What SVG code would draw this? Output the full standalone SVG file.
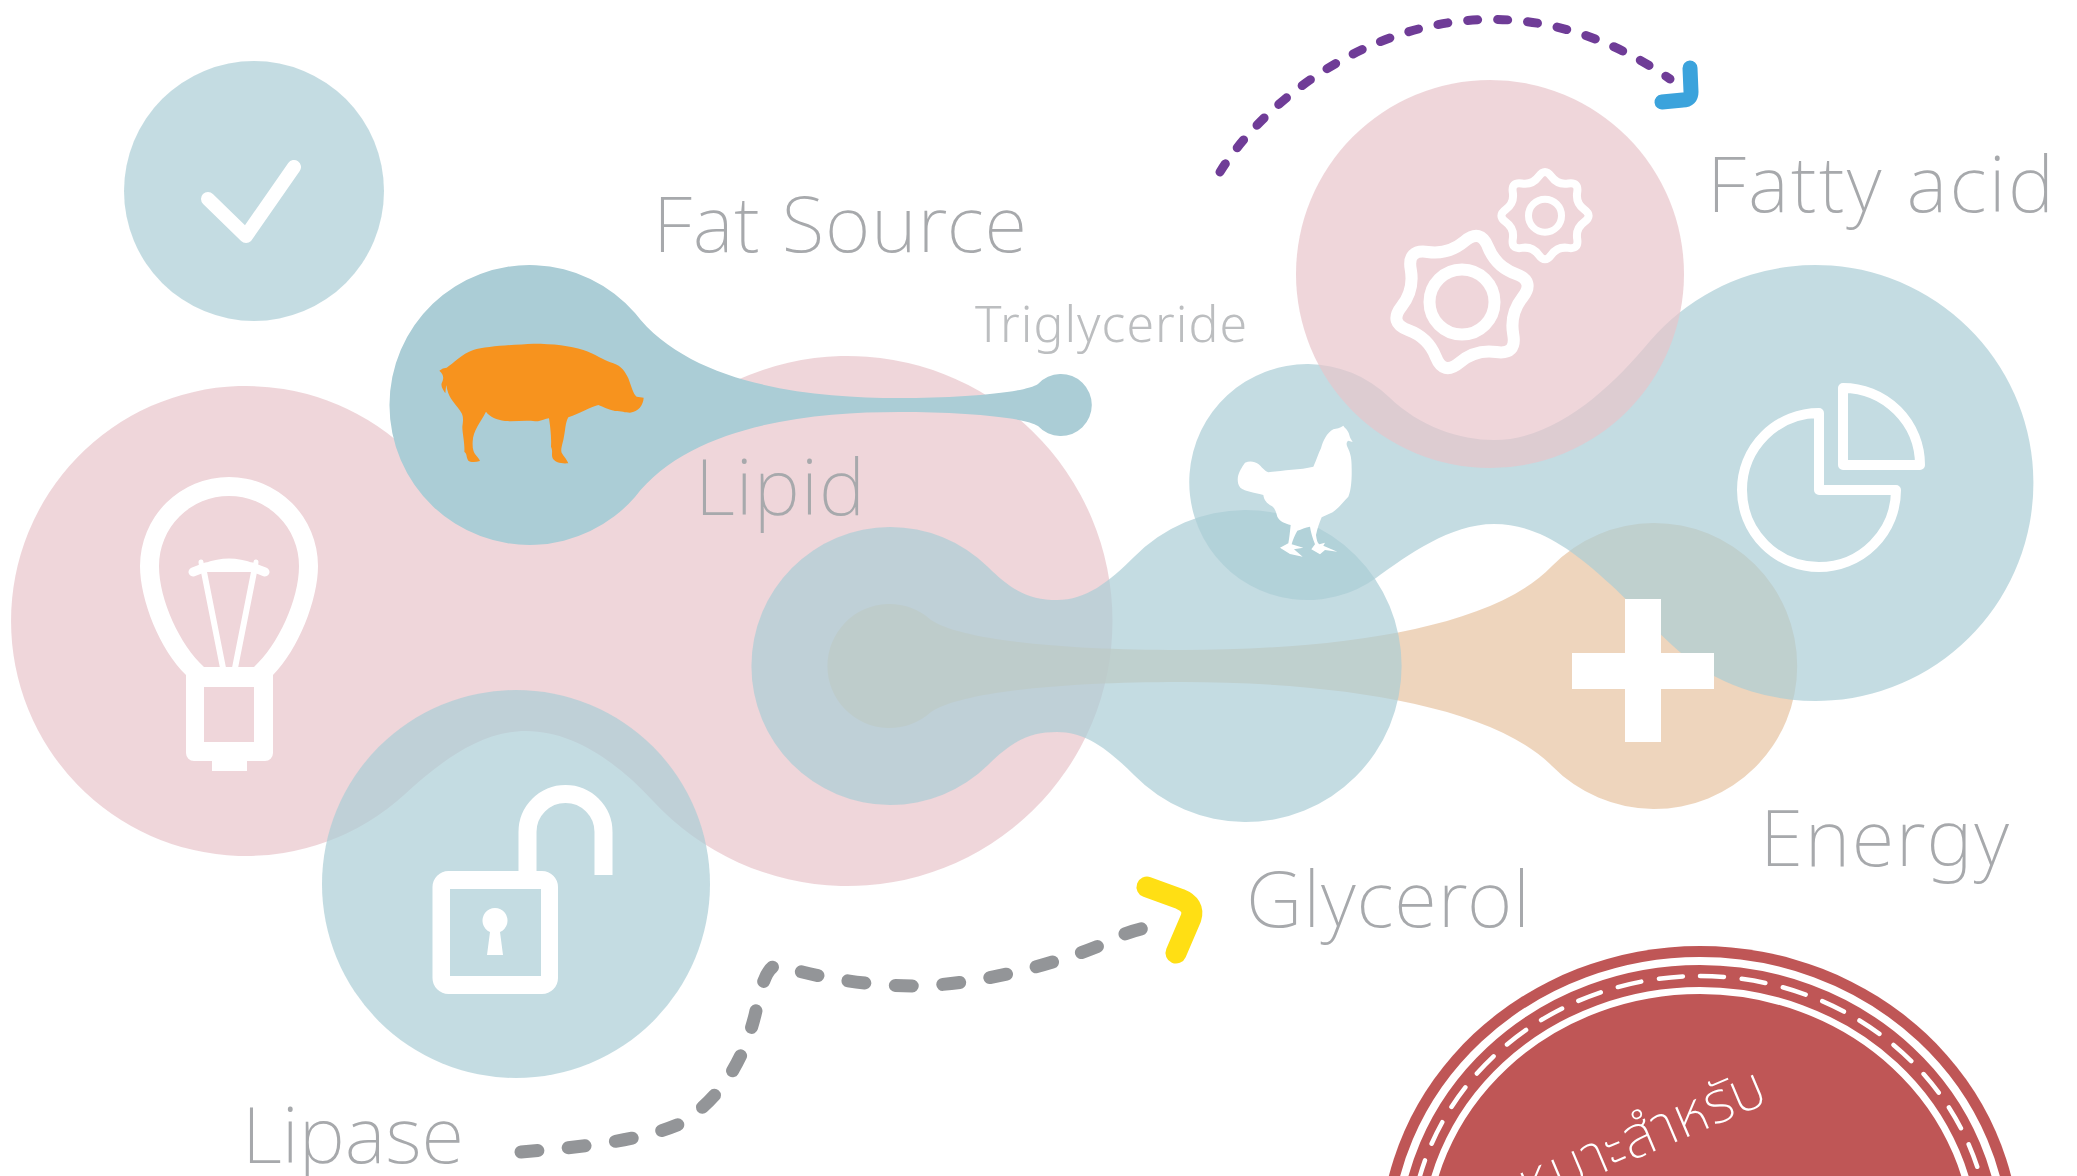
<svg xmlns="http://www.w3.org/2000/svg" width="2077" height="1176" viewBox="0 0 2077 1176">
<style>
.teal{fill:#abcdd6;fill-opacity:.7}
.pink{fill:#e8c4cb;fill-opacity:.7}
.tan{fill:#e7c3a1;fill-opacity:.7}
.line{fill:none;stroke:#fff;stroke-linejoin:round;stroke-linecap:round}
.ico{fill:#fff}
.lbl{font-family:"Noto Sans","Open Sans",sans-serif;font-weight:200;font-size:78px;fill:#a7a9ac}
</style>
<rect width="2077" height="1176" fill="#fff"/>
<g id="node-lipid"><path class="pink" d="M404 447A235 235 0 1 0 404 795C440 762 480 731 526 731C575 731 620 765 653 801A265 265 0 1 0 653 441C620 477 575 511 526 511C480 511 440 480 404 447Z"/>
<path class="ico" fill-rule="evenodd" d="M186 675C160 650 140 600 140 566A89 89 0 0 1 318 566C318 600 298 650 273 675V753a8 8 0 0 1-8 8H247V771H212V761H194a8 8 0 0 1-8-8ZM204 667H254C278 645 299 600 299 566A70 70 0 0 0 159 566C159 600 180 645 204 667ZM204 687V742H254V687Z"/>
<path class="ico" d="M204 572H254L253 563Q229 554 205 563Z"/>
<path class="line" stroke-width="6" d="M204 572L223 668M254 572L235 668"/>
<path class="line" stroke-width="9" d="M193 572L206 567M265 572L252 567"/>
<path class="line" stroke-width="5" d="M201 562L202 570M256 562L255 570"/>
</g>
<g id="node-energy"><path class="tan" transform="translate(1 0)" d="M930 620C960 640 1060 650 1180 650C1330 650 1490 630 1551 566A143 143 0 1 1 1551 766C1490 704 1330 682 1180 682C1060 682 960 692 930 712A62 62 0 1 1 930 620Z"/>
</g>
<g id="node-glycerol"><path class="teal" transform="translate(1 0)" d="M987 567C1012 592 1030 600 1056 600C1085 600 1108 582 1133 557A156 156 0 1 1 1133 775C1108 750 1085 732 1056 732C1030 732 1012 740 987 765A139 139 0 1 1 987 567Z"/></g>
<g id="node-fatty"><path class="teal" transform="translate(0 -1)" d="M1389 398C1420 428 1460 441 1494 441C1555 441 1610 390 1650 342A218 218 0 1 1 1714 677C1676 657 1640 612 1610 585C1570 548 1535 525 1494 525C1450 525 1408 556 1376 579A118 118 0 1 1 1389 398Z"/>
<path class="line" stroke-width="10" d="M1843 388V465H1920A77 77 0 0 0 1843 388ZM1819 413V490H1896A77 77 0 1 1 1819 413Z"/>
<path class="ico" transform="translate(1220 410) scale(.3333)" d="M370 47C375 55 385 60 388 75C390 85 395 90 398 96L385 92C380 95 378 102 382 110C392 130 395 145 395 175C396 215 392 245 385 260C370 275 355 295 338 307L305 322C298 340 292 355 288 375C290 390 292 398 298 403L315 398L310 407L352 425L315 420L300 433L274 418L285 403C278 385 272 365 270 350C255 352 245 358 232 362C225 375 218 390 215 403L250 413L222 418L248 440L210 432L180 413L205 400C208 385 210 365 212 345C195 340 180 335 172 320C168 305 165 295 155 288C140 280 132 270 130 255C115 250 100 248 90 245C75 243 62 235 60 232C52 222 52 205 55 195C60 180 70 165 75 158C90 152 105 155 115 162C125 170 130 180 145 187C185 180 240 180 280 170C290 150 295 130 303 115C310 90 320 70 340 58C350 55 360 55 370 47Z"/>
</g>
<g id="node-gears"><circle class="pink" cx="1490" cy="274" r="194"/>
<path class="line" stroke-width="11.500" transform="translate(1462 302) scale(1.05) translate(-1462 -302)" d="M1464.35 244.3Q1479.6 231.5 1487 250Q1494.4 268.4 1513.15 275.2Q1531.9 282 1519.6 297.65Q1507.3 313.3 1510.8 332.9Q1514.3 352.5 1494.6 349.7Q1474.9 346.9 1459.65 359.7Q1444.4 372.5 1437 354.05Q1429.6 335.6 1410.85 328.8Q1392.1 322 1404.4 306.35Q1416.7 290.7 1413.2 271.1Q1409.7 251.5 1429.4 254.3Q1449.1 257.1 1464.35 244.3Z"/>
<circle class="line" cx="1462" cy="302" r="32.5" stroke-width="12"/>
<g transform="translate(1545 215.7)"><path class="line" stroke-width="8" d="M-6.3 -39.25Q0 -48 6.3 -39.25Q12.6 -30.5 23.25 -32.2Q33.9 -33.9 32.2 -23.25Q30.5 -12.6 39.25 -6.3Q48 0 39.25 6.3Q30.5 12.6 32.2 23.25Q33.9 33.9 23.25 32.2Q12.6 30.5 6.3 39.25Q0 48 -6.3 39.25Q-12.6 30.5 -23.25 32.2Q-33.9 33.9 -32.2 23.25Q-30.5 12.6 -39.25 6.3Q-48 0 -39.25 -6.3Q-30.5 -12.6 -32.2 -23.25Q-33.9 -33.9 -23.25 -32.2Q-12.6 -30.5 -6.3 -39.25Z"/>
<circle class="line" r="16.5" stroke-width="7"/></g>
</g>
<g id="node-plus"><path class="ico" d="M1625 599H1661V653H1714V689H1661V742H1625V689H1572V653H1625Z"/></g>
<g id="node-source"><path fill="#abcdd6" d="M635 313C690 385 810 398 899 398C960 398 1025 393 1038 384A31 31 0 1 1 1038 426C1025 417 960 412 899 412C810 412 690 425 635 497A140 140 0 1 1 635 313Z"/>
<path fill="#f7931e" transform="translate(420 330) scale(.3333)" d="M58 122Q68 113 80 113C100 100 125 72 160 60C200 48 290 44 340 41C400 41 450 47 490 60C525 72 550 90 580 100C605 108 615 125 625 145C633 165 640 195 650 200L671 203C670 225 655 245 630 248C615 248 605 243 585 243C565 240 550 230 535 225C510 232 480 250 445 262C435 280 437 300 430 330C425 350 422 360 425 368C432 380 442 390 445 400C425 402 405 398 398 385C393 372 400 365 393 350C395 320 390 285 387 265C375 265 365 275 345 274C320 270 285 275 255 273C230 268 210 262 198 245C180 280 160 300 158 335C157 355 160 365 165 372C170 380 178 385 180 393C165 398 150 397 145 392C138 380 142 372 133 365C135 340 127 310 127 290C130 270 130 260 125 250C110 225 95 215 85 190C78 170 77 150 75 125L80 125C75 140 82 160 78 170L76 190C70 180 62 170 65 160C72 145 72 135 58 122Z"/>
</g>
<g id="node-check"><circle class="teal" cx="254" cy="191" r="130"/><path class="line" stroke-width="14" d="M208 199L246 236L294 167"/></g>
<g id="node-lipase"><circle class="teal" cx="516" cy="884" r="194"/>
<path class="ico" fill-rule="evenodd" d="M448.500 871H542a16 16 0 0 1 16 16V978a16 16 0 0 1-16 16H448.500a16 16 0 0 1-16-16V887a16 16 0 0 1 16-16ZM450 889V976H541V889Z"/>
<path fill="none" stroke="#fff" stroke-width="18" d="M527.500 875V832A38 38 0 0 1 603.500 832V875"/>
<path class="ico" d="M490 932A12.500 12.500 0 1 1 500 932L503 955H487Z"/>
</g>
<g id="node-badge"><ellipse cx="1700" cy="1246" rx="320" ry="300" fill="#bf5656"/>
<ellipse cx="1700" cy="1246" rx="305" ry="285" fill="none" stroke="#fff" stroke-width="8"/>
<path fill="none" stroke="#fff" stroke-width="4.500" stroke-linecap="round" stroke-dasharray="24 17.900" d="M1700 976A290 270 0 1 1 1700 1516A290 270 0 1 1 1700 976"/>
<ellipse cx="1700" cy="1246" rx="275.500" ry="255.500" fill="none" stroke="#fff" stroke-width="7"/>
<text transform="translate(1770 1102) rotate(-23)" text-anchor="end" font-family="'Noto Sans Thai','Noto Sans',sans-serif" font-weight="200" font-size="58" fill="#fff">เหมาะสำหรับ</text>
</g>
<g id="connectors" fill="none" stroke-linecap="round" stroke-linejoin="round">
<path stroke="#6f3c97" stroke-width="9" stroke-dasharray="10 20" d="M1220 172C1280 75 1470 -60 1670 79"/>
<path stroke="#3ba3dc" stroke-width="15" d="M1690 68L1691 92Q1691 100 1683 100L1662 102"/>
<path stroke="#939598" stroke-width="13" stroke-dasharray="17 30.500" d="M521 1152C570 1148 640 1142 682 1123C725 1095 745 1055 755 1015C762 985 765 970 776 965C810 975 860 986 917 986C985 984 1057 963 1101 945Q1125 932 1145 928"/>
<path stroke="#ffdf14" stroke-width="21" d="M1147 887L1180 899Q1195 905 1191 918L1176 953"/>
</g>
<g id="labels">
<text class="lbl" x="653" y="252" textLength="374" lengthAdjust="spacing">Fat Source</text>
<text class="lbl" x="975" y="342" style="font-size:50px;font-weight:300;fill:#bcbec0" textLength="272" lengthAdjust="spacing">Triglyceride</text>
<text class="lbl" x="695" y="515" textLength="170" lengthAdjust="spacing">Lipid</text>
<text class="lbl" x="1707" y="212" textLength="347" lengthAdjust="spacing">Fatty acid</text>
<text class="lbl" x="1760" y="866" textLength="249" lengthAdjust="spacing">Energy</text>
<text class="lbl" x="1246" y="927" textLength="284" lengthAdjust="spacing">Glycerol</text>
<text class="lbl" x="242" y="1163" textLength="222" lengthAdjust="spacing">Lipase</text>
</g>
</svg>
